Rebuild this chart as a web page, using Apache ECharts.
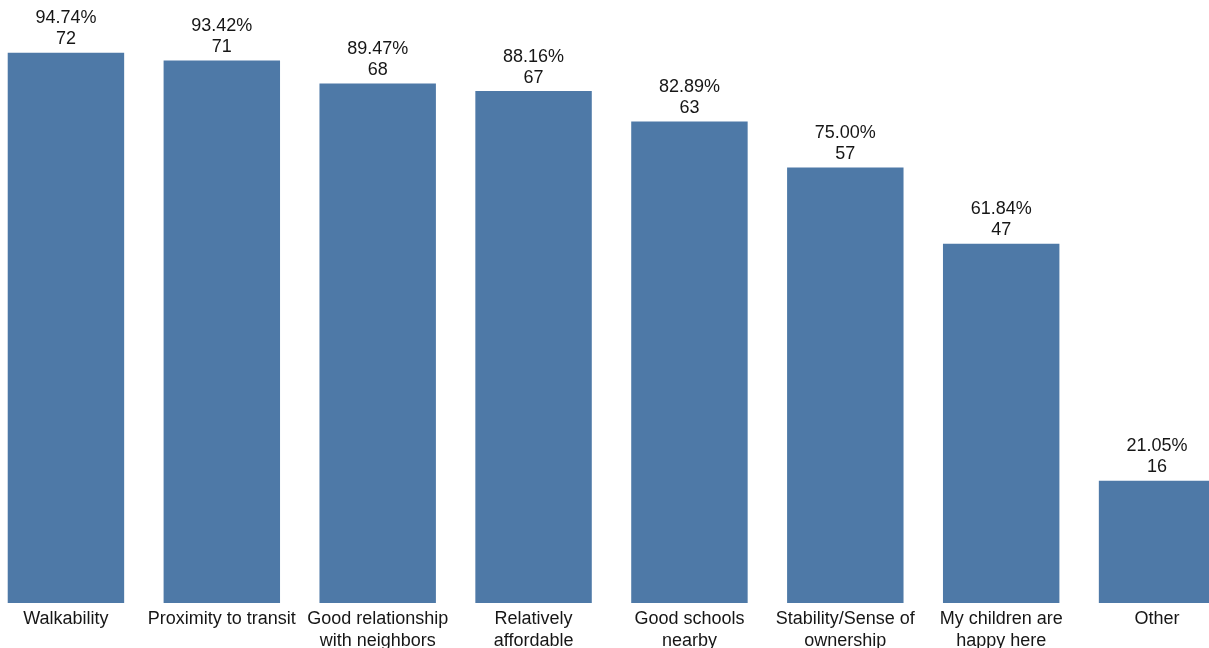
<!DOCTYPE html>
<html>
<head>
<meta charset="utf-8">
<title>Reasons for living here</title>
<script src="https://cdn.jsdelivr.net/npm/echarts@6/dist/echarts.min.js"></script>
<style>
  html, body { margin: 0; padding: 0; background: #ffffff; }
  #chart { width: 1209px; height: 648px; }
</style>
</head>
<body>
<div id="chart"></div>
<script>
// Response categories (line breaks where the axis labels wrap)
const categories = [
  'Walkability',
  'Proximity to transit',
  'Good relationship\nwith neighbors',
  'Relatively\naffordable',
  'Good schools\nnearby',
  'Stability/Sense of\nownership',
  'My children are\nhappy here',
  'Other'
];

// Number of respondents choosing each reason
const counts = [72, 71, 68, 67, 63, 57, 47, 16];

// Share of respondents, as printed above each bar
const percents = ['94.74%', '93.42%', '89.47%', '88.16%', '82.89%', '75.00%', '61.84%', '21.05%'];

const FONT = '"Liberation Sans", Arial, Helvetica, sans-serif';
const TEXT = '#161616';
const BAR = '#4e79a7';

const chart = echarts.init(document.getElementById('chart'), null, { renderer: 'canvas' });

chart.setOption({
  animation: false,
  backgroundColor: '#ffffff',
  grid: {
    left: -12,
    width: 1247,
    top: 7,
    bottom: 45,
    containLabel: false,
    outerBoundsMode: 'none'
  },
  xAxis: {
    type: 'category',
    data: categories,
    axisLine: { show: false },
    axisTick: { show: false },
    axisLabel: {
      interval: 0,
      margin: 5,
      color: TEXT,
      fontFamily: FONT,
      fontSize: 18,
      lineHeight: 22,
      verticalAlign: 'top'
    }
  },
  yAxis: {
    type: 'value',
    min: 0,
    max: 78,
    show: false,
    splitLine: { show: false }
  },
  series: [{
    type: 'bar',
    data: counts,
    barWidth: '74.7%',
    itemStyle: { color: BAR },
    label: {
      show: true,
      position: 'top',
      distance: 3,
      color: TEXT,
      fontFamily: FONT,
      fontSize: 18,
      lineHeight: 21,
      align: 'center',
      formatter: p => percents[p.dataIndex] + '\n' + p.value
    }
  }]
});
</script>
</body>
</html>
